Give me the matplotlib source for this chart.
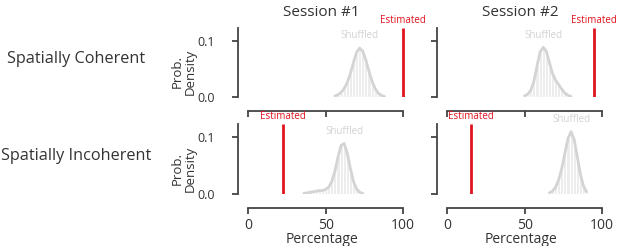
import matplotlib
matplotlib.use("Agg")
import matplotlib.pyplot as plt
import numpy as np

plt.rcParams['font.family'] = ['Open Sans', 'DejaVu Sans']

sessions = ["Session #1", "Session #2"]
conditions = ["Spatially Coherent", "Spatially Incoherent"]
xticks = [0, 50, 100]
yticks = [0.0, 0.1]

# Shuffled distributions (percentage bins, probability density)
coh_s1_x = [56, 58, 60, 62, 64, 66, 68, 70, 72, 74, 76, 78, 80, 82, 84, 86, 88]
coh_s1_y = [0.002, 0.004, 0.008, 0.015, 0.026, 0.042, 0.062, 0.080, 0.0875, 0.082,
            0.066, 0.046, 0.028, 0.015, 0.007, 0.003, 0.001]
coh_s2_x = [50, 52, 54, 56, 58, 60, 62, 64, 66, 68, 70, 72, 74, 76, 78, 80]
coh_s2_y = [0.002, 0.005, 0.012, 0.028, 0.055, 0.080, 0.089, 0.082, 0.062, 0.042,
            0.030, 0.022, 0.014, 0.007, 0.003, 0.001]
inc_s1_x = [36, 38, 40, 42, 44, 46, 48, 50, 52, 54, 56, 58, 60, 62, 64, 66, 68, 70, 72, 74]
inc_s1_y = [0.001, 0.002, 0.003, 0.004, 0.005, 0.006, 0.006, 0.008, 0.012, 0.022,
            0.040, 0.065, 0.086, 0.089, 0.072, 0.045, 0.022, 0.009, 0.003, 0.001]
inc_s2_x = [66, 68, 70, 72, 74, 76, 78, 80, 82, 84, 86, 88, 90]
inc_s2_y = [0.002, 0.005, 0.012, 0.025, 0.045, 0.072, 0.098, 0.110, 0.096, 0.066,
            0.035, 0.014, 0.004]

# Estimated percentages
est_coh = [100, 95]
est_inc = [22.5, 15.5]

shuffled = [[(coh_s1_x, coh_s1_y), (coh_s2_x, coh_s2_y)],
            [(inc_s1_x, inc_s1_y), (inc_s2_x, inc_s2_y)]]
estimated = [est_coh, est_inc]

W, H = 617, 246
fig = plt.figure(figsize=(W / 100, H / 100), dpi=100)

txt = '#333333'
red = '#e0141e'
grey_line = '#d4d4d4'
grey_fill = '#ededed'

lefts = [238, 437]
tops = [26, 122]
ax_w = 167.4
ax_h = [71, 72]

for r in range(2):
    for c in range(2):
        ax = fig.add_axes([lefts[c] / W, (H - tops[r] - ax_h[r]) / H, ax_w / W, ax_h[r] / H])
        ax.set_xlim(-6.5, 101.5)
        ax.set_ylim(0, 0.127)
        xs, ys = shuffled[r][c]
        xs = np.array(xs, float)
        ys = np.array(ys, float)
        ax.bar(xs, ys, width=2.0, color=grey_fill, edgecolor='white', linewidth=0.8, zorder=1)
        ax.plot(xs, ys, color=grey_line, lw=2.0, solid_capstyle='round', zorder=2)
        pk = int(np.argmax(ys))
        ax.text(xs[pk], ys[pk] + 0.012, "Shuffled", color='#d2d2d2', fontsize=7,
                ha='center', va='bottom')
        e = estimated[r][c]
        ax.plot([e, e], [0, 0.124], color=red, lw=2.0, zorder=3, solid_capstyle='butt')
        ax.text(e, 0.136, "Estimated", color=red, fontsize=7, ha='center', va='center',
                clip_on=False)
        for s in ['top', 'right']:
            ax.spines[s].set_visible(False)
        for s in ['left', 'bottom']:
            ax.spines[s].set_color('#444444')
            ax.spines[s].set_linewidth(1.3)
        ax.spines['bottom'].set_position(('outward', 10))
        ax.spines['bottom'].set_bounds(0, 100)
        ax.spines['left'].set_bounds(0, 0.124)
        ax.set_xticks(xticks)
        ax.set_yticks(yticks)
        ax.tick_params(length=4, width=1.3, color='#444444', labelcolor=txt)
        ax.tick_params(axis='x', labelsize=10, pad=3)
        ax.tick_params(axis='y', labelsize=9, pad=12.5)
        if c == 0:
            ax.set_yticklabels(["0.0", "0.1"])
            ax.set_ylabel("Prob.\nDensity", fontsize=9.5, color=txt, linespacing=1.05)
            ax.yaxis.set_label_coords((197 - lefts[c]) / ax_w, 0.355)
        else:
            ax.set_yticklabels([])
        if r == 1:
            ax.set_xticklabels(["0", "50", "100"])
            ax.set_xlabel("Percentage", fontsize=10, color=txt)
            ax.xaxis.set_label_coords(0.5, -(232 - tops[r] - ax_h[r]) / ax_h[r])
        else:
            ax.set_xticklabels([])
            ax.set_title(sessions[c], fontsize=11, color=txt, pad=7)
        ax.patch.set_visible(False)

fig.text(76 / W, 1 - 59 / H, conditions[0], fontsize=11.7, color=txt, ha='center', va='center')
fig.text(76 / W, 1 - 156 / H, conditions[1], fontsize=11.7, color=txt, ha='center', va='center')

fig.savefig("out.png", dpi=100)
